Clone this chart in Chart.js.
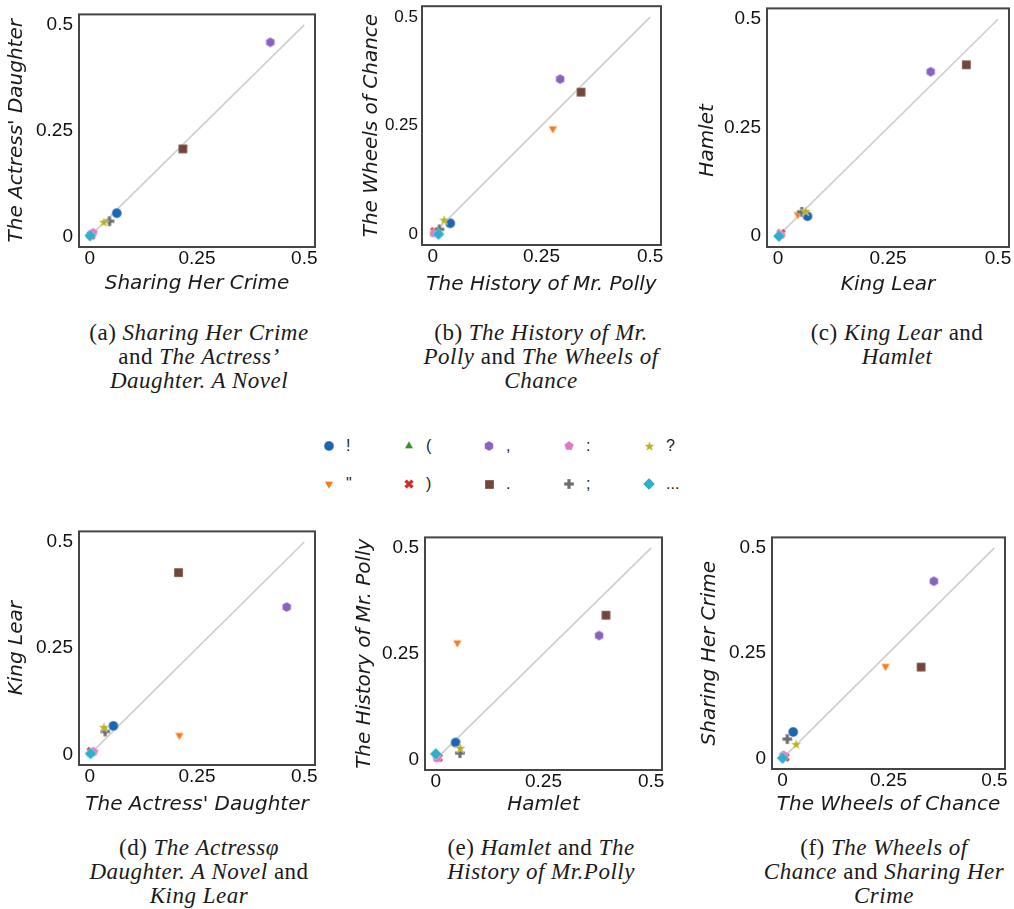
<!DOCTYPE html>
<html>
<head>
<meta charset="utf-8">
<script src="https://cdn.jsdelivr.net/npm/chart.js@4.4.1/dist/chart.umd.min.js"></script>
<style>
  html, body { margin: 0; padding: 0; background: #fff; }
  body { width: 1014px; height: 909px; position: relative; overflow: hidden; }
  .panel { position: absolute; }
  .cap {
    position: absolute; width: 360px; text-align: center;
    font-family: "Liberation Serif", "Times New Roman", serif;
    font-size: 23px; line-height: 24px; letter-spacing: 0.5px; color: #1a1a1a;
  }
  .leg-mark { position: absolute; }
  .leg-text {
    position: absolute; line-height: 20px;
    font-family: "Liberation Sans", Arial, sans-serif; font-size: 16px; color: #222;
  }
</style>
</head>
<body>
<div class="cap" style="left:19px; top:321px">(a) <i>Sharing Her Crime</i><br>and <i>The Actress’</i><br><i>Daughter. A Novel</i></div>
<div class="cap" style="left:361px; top:321px">(b) <i>The History of Mr.</i><br><i>Polly</i> and <i>The Wheels of</i><br><i>Chance</i></div>
<div class="cap" style="left:717px; top:321px">(c) <i>King Lear</i> and<br><i>Hamlet</i></div>
<div class="cap" style="left:19px; top:836px">(d) <i>The Actressφ</i><br><i>Daughter. A Novel</i> and<br><i>King Lear</i></div>
<div class="cap" style="left:361px; top:836px">(e) <i>Hamlet</i> and <i>The</i><br><i>History of Mr.Polly</i></div>
<div class="cap" style="left:704px; top:836px">(f) <i>The Wheels of</i><br><i>Chance</i> and <i>Sharing Her</i><br><i>Crime</i></div>
<div id="legend"></div>

<script>
// Relative punctuation frequencies per novel, one value per mark in PUNCTUATION.
const PUNCTUATION = ["!", "\"", "(", ")", ",", ".", ":", ";", "?", "..."]
const SHARING_HER_CRIME = [0.063, 0.219, 0.002, 0.003, 0.421, 0.217, 0.008, 0.046, 0.033, 0.001]
const ACTRESS_DAUGHTER = [0.055, 0.209, 0.002, 0.003, 0.459, 0.207, 0.009, 0.036, 0.033, 0.002]
const KING_LEAR = [0.067, 0.045, 0.002, 0.007, 0.347, 0.428, 0.006, 0.054, 0.063, 0.002]
const HAMLET = [0.046, 0.050, 0.003, 0.006, 0.379, 0.395, 0.003, 0.056, 0.057, 0.000]
const MR_POLLY = [0.040, 0.276, 0.002, 0.004, 0.293, 0.341, 0.003, 0.015, 0.026, 0.013]
const WHEELS_OF_CHANCE = [0.025, 0.243, 0.001, 0.006, 0.357, 0.327, 0.002, 0.011, 0.032, 0.000]

const TICK_VALUES = [0, 0.25, 0.5]
const TICK_LABELS = ["0", "0.25", "0.5"]
const DIAGONAL = [0, 0.5]
const AXIS_MIN = -0.025
const AXIS_MAX = 0.525

const MARKERS = [
  { shape: "circle", color: "#1f66b0", size: 10 },
  { shape: "triangleDown", color: "#f47a20", size: 10 },
  { shape: "triangleUp", color: "#3a9030", size: 10 },
  { shape: "x", color: "#d22d2d", size: 10 },
  { shape: "hexagon", color: "#8a62c0", size: 10 },
  { shape: "square", color: "#72463b", size: 9 },
  { shape: "pentagon", color: "#e07ac8", size: 10 },
  { shape: "plus", color: "#6e6e6e", size: 10 },
  { shape: "star", color: "#b8b21e", size: 11 },
  { shape: "diamond", color: "#2eb0cc", size: 12 }
]

// box = chart area [left, top, width, height] on the page; gaps = title centre distance from the box
const PANELS = [
  { x: SHARING_HER_CRIME, y: ACTRESS_DAUGHTER, xTitle: "Sharing Her Crime", yTitle: "The Actress' Daughter", box: [79, 11, 236, 236], yGap: 62, xGap: 37, yTick: 19, yPad: 6 },
  { x: MR_POLLY, y: WHEELS_OF_CHANCE, xTitle: "The History of Mr. Polly", yTitle: "The Wheels of Chance", box: [422, 6, 239, 239], yGap: 50, xGap: 40, yTick: 17, yPad: 4 },
  // trailing spaces push "Hamlet" below the centre of the axis, as in the original
  { x: KING_LEAR, y: HAMLET, xTitle: "King Lear", yTitle: "Hamlet    ", box: [767, 5, 242, 242], yGap: 59, xGap: 38, yTick: 19, yPad: 6 },
  { x: ACTRESS_DAUGHTER, y: KING_LEAR, xTitle: "The Actress' Daughter", yTitle: "King Lear", box: [79, 528, 236, 237], yGap: 62, xGap: 40, yTick: 19, yPad: 6 },
  { x: HAMLET, y: MR_POLLY, xTitle: "Hamlet", yTitle: "The History of Mr. Polly", box: [425, 534, 237, 236], yGap: 60, xGap: 35, yTick: 19, yPad: 6 },
  { x: WHEELS_OF_CHANCE, y: SHARING_HER_CRIME, xTitle: "The Wheels of Chance", yTitle: "Sharing Her Crime", box: [772, 534, 233, 235], yGap: 62, xGap: 36, yTick: 19, yPad: 6 }
]

const PAGE_WIDTH = 1014
const PAD_TOP = 14
const TICK_FAMILY = "\"Liberation Sans\", Arial, sans-serif"
const TITLE_FONT = { family: "\"DejaVu Sans\", sans-serif", size: 20, style: "italic" }

function polygon(ctx, n, r, start) {
  for (let k = 0; k < n; k++) {
    const a = start + (k * 2 * Math.PI) / n
    ctx.lineTo(r * Math.cos(a), r * Math.sin(a))
  }
}

function star(ctx, r) {
  for (let k = 0; k < 10; k++) {
    const a = -Math.PI / 2 + (k * Math.PI) / 5
    const rr = k % 2 === 0 ? r : r * 0.42
    ctx.lineTo(rr * Math.cos(a), rr * Math.sin(a))
  }
}

function plus(ctx, r) {
  const w = r * 0.36
  const pts = [[-w, -r], [w, -r], [w, -w], [r, -w], [r, w], [w, w], [w, r], [-w, r], [-w, w], [-r, w], [-r, -w], [-w, -w]]
  pts.forEach(([px, py]) => ctx.lineTo(px, py))
}

// Filled marker glyphs (matplotlib-like) drawn once into small canvases
function drawMarker(spec) {
  const s = spec.size + 4
  const c = document.createElement("canvas")
  c.width = c.height = s
  const ctx = c.getContext("2d")
  const r = spec.size / 2
  ctx.translate(s / 2, s / 2)
  ctx.beginPath()
  switch (spec.shape) {
    case "circle": ctx.arc(0, 0, r, 0, Math.PI * 2); break
    case "square": ctx.rect(-r, -r, 2 * r, 2 * r); break
    case "triangleDown": polygon(ctx, 3, r, Math.PI / 2); break
    case "triangleUp": polygon(ctx, 3, r, -Math.PI / 2); break
    case "hexagon": polygon(ctx, 6, r, -Math.PI / 2); break
    case "pentagon": polygon(ctx, 5, r, -Math.PI / 2); break
    case "diamond": polygon(ctx, 4, r, -Math.PI / 2); break
    case "star": star(ctx, r); break
    case "plus": plus(ctx, r); break
    case "x": ctx.rotate(Math.PI / 4); plus(ctx, r); break
  }
  ctx.closePath()
  ctx.fillStyle = spec.color
  ctx.fill()
  ctx.lineWidth = 0.5
  ctx.strokeStyle = "rgba(255,255,255,0.7)"
  ctx.stroke()
  return c
}

const markerImages = MARKERS.map(drawMarker)

const framePlugin = {
  id: "frame",
  afterDraw(chart) {
    const { ctx, chartArea } = chart
    ctx.save()
    ctx.strokeStyle = "#454545"
    ctx.lineWidth = 2
    ctx.strokeRect(chartArea.left, chartArea.top, chartArea.right - chartArea.left, chartArea.bottom - chartArea.top)
    ctx.restore()
  }
}

function axis(title, horizontal, size, tickSize, tickPad) {
  return {
    type: "linear",
    min: AXIS_MIN,
    max: AXIS_MAX,
    afterBuildTicks: (a) => { a.ticks = TICK_VALUES.map((v) => ({ value: v })) },
    afterFit: (a) => { if (horizontal) a.height = size; else a.width = size },
    grid: { display: false, drawTicks: false },
    border: { display: false },
    ticks: {
      font: { family: TICK_FAMILY, size: tickSize },
      color: "#111",
      padding: tickPad,
      maxRotation: 0,
      autoSkip: false,
      callback: (v, i) => TICK_LABELS[i]
    },
    title: { display: true, text: title, font: TITLE_FONT, color: "#1a1a1a", padding: 0 }
  }
}

PANELS.forEach((p) => {
  const [bx, by, bw, bh] = p.box
  const yw = p.yGap + 12
  const xh = p.xGap + 12
  const padRight = Math.min(22, PAGE_WIDTH - (bx + bw))
  const canvas = document.createElement("canvas")
  canvas.className = "panel"
  canvas.width = yw + bw + padRight
  canvas.height = PAD_TOP + bh + xh
  canvas.style.left = (bx - yw) + "px"
  canvas.style.top = (by - PAD_TOP) + "px"
  canvas.style.width = canvas.width + "px"
  canvas.style.height = canvas.height + "px"
  document.body.appendChild(canvas)

  const points = PUNCTUATION.map((label, i) => ({
    label,
    data: [{ x: p.x[i], y: p.y[i] }],
    pointStyle: markerImages[i],
    order: PUNCTUATION.length - i
  }))

  new Chart(canvas, {
    type: "scatter",
    plugins: [framePlugin],
    data: {
      datasets: [
        ...points,
        {
          label: "diagonal",
          data: DIAGONAL.map((v) => ({ x: v, y: v })),
          showLine: true,
          borderColor: "#cfcfcf",
          borderWidth: 1.7,
          pointRadius: 0,
          order: 100
        }
      ]
    },
    options: {
      responsive: false,
      animation: false,
      events: [],
      layout: { padding: { top: PAD_TOP, right: padRight, left: 0, bottom: 0 } },
      plugins: { legend: { display: false }, tooltip: { enabled: false } },
      scales: {
        x: axis(p.xTitle, true, xh, 19, 0),
        y: axis(p.yTitle, false, yw, p.yTick, p.yPad)
      }
    }
  })
})

// Shared legend: 5 columns x 2 rows, filled column by column
const legend = document.getElementById("legend")
PUNCTUATION.forEach((label, i) => {
  const col = Math.floor(i / 2)
  const row = i % 2
  const cx = 329 + col * 80
  const cy = 446 + row * 38
  const m = drawMarker(MARKERS[i])
  m.className = "leg-mark"
  m.style.left = (cx - m.width / 2) + "px"
  m.style.top = (cy - m.height / 2) + "px"
  legend.appendChild(m)
  const t = document.createElement("span")
  t.className = "leg-text"
  t.textContent = label
  t.style.left = (cx + 17) + "px"
  t.style.top = (cy - 10) + "px"
  legend.appendChild(t)
})
</script>
</body>
</html>
